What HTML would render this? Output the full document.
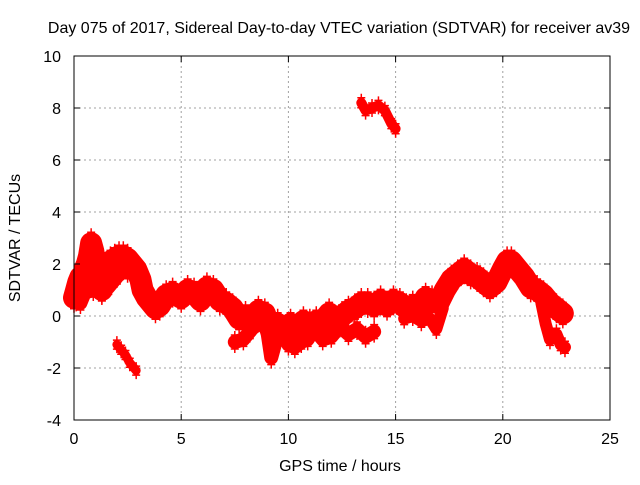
<!DOCTYPE html>
<html><head><meta charset="utf-8"><style>
body{margin:0;background:#fff}
svg text{font-family:"Liberation Sans",sans-serif;font-size:16px;fill:#000}
</style></head><body>
<svg id="chart" width="640" height="480" xmlns="http://www.w3.org/2000/svg">
<rect width="640" height="480" fill="#fff"/>
<text x="339" y="33" text-anchor="middle">Day 075 of 2017, Sidereal Day-to-day VTEC variation (SDTVAR) for receiver av39</text>
<text x="340" y="471" text-anchor="middle">GPS time / hours</text>
<text transform="translate(20,238) rotate(-90)" text-anchor="middle">SDTVAR / TECUs</text>
<g id="grid"></g><g id="series"></g><g id="axes"></g>
</svg>
<script>
const xTicks=[0,5,10,15,20,25];
const yTicks=[-4,-2,0,2,4,6,8,10];
const segMainT=[0,0.1,0.2,0.3,0.4,0.5,0.6,0.7,0.8,0.9,1.0,1.1,1.2,1.3,1.4,1.5,1.7,1.9,2.1,2.3,2.5,2.7,2.9,3.1,3.2,3.4,3.6,3.8,4.0,4.3,4.6,5.0,5.3,5.6,5.9,6.2,6.5,6.8,7.1,7.4,7.7,8.0,8.3,8.6,8.9,9.2,9.5,9.8,10.1,10.4,10.7,11.0,11.3,11.6,11.9,12.2,12.5,12.8,13.1,13.4,13.7,14.0,14.3,14.6,14.9,15.2,15.5,15.8,16.1,16.4,16.7,17.0,17.3,17.6,17.9,18.2,18.5,18.8,19.1,19.4,19.7,20.0,20.2,20.4,20.7,21.0,21.3,21.6,21.9,22.2,22.5,22.8];
const segMainV=[0.7,1.0,1.3,1.5,1.1,1.8,2.0,2.3,2.8,2.5,2.0,1.7,1.5,1.0,1.3,1.9,2.1,2.2,2.3,2.3,2.2,2.0,1.8,1.4,1.0,0.7,0.5,0.3,0.4,0.8,0.9,0.7,1.0,0.9,0.6,1.1,1.0,0.6,0.5,0.3,-0.1,0.0,-0.3,0.2,0.1,-0.6,-0.3,-0.6,-0.3,-0.5,-0.2,-0.3,-0.2,-0.2,0.1,-0.2,0.0,0.2,0.3,0.5,0.5,0.4,0.6,0.4,0.6,0.5,0.3,0.4,0.2,0.7,0.6,0.5,1.0,1.4,1.6,1.8,1.6,1.5,1.3,1.1,1.3,1.8,2.1,2.1,1.8,1.5,1.1,1.0,0.8,0.5,0.3,0.1];
const segBranchAT=[0.1,0.3,0.5,0.9,1.3,1.6,2.0,2.3,2.5];
const segBranchAV=[0.6,0.5,0.9,1.0,0.9,1.1,1.5,1.8,1.7];
const segLowT=[2.0,2.2,2.4,2.6,2.9];
const segLowV=[-1.1,-1.3,-1.5,-1.8,-2.1];
const segBranchBT=[7.5,7.9,8.2,8.6,9.0,9.2,9.4,9.7,10.0,10.3,10.6,10.9,11.2,11.6,12.0,12.4,12.8,13.2,13.6,14.0];
const segBranchBV=[-1.0,-0.9,-0.6,-0.2,-0.5,-1.6,-1.0,-0.6,-1.1,-1.2,-1.0,-0.9,-0.5,-0.9,-0.8,-0.4,-0.7,-0.5,-0.8,-0.6];
const segBranchCT=[15.4,15.8,16.2,16.6,16.9,17.2];
const segBranchCV=[-0.1,0.0,-0.2,-0.1,-0.5,0.3];
const segEndT=[21.8,22.0,22.2,22.5,22.7,22.9];
const segEndV=[0.5,-0.3,-0.9,-0.7,-1.1,-1.2];
const segHighT=[13.4,13.6,13.9,14.2,14.5,14.8,15.0];
const segHighV=[8.2,7.9,8.0,8.1,7.9,7.4,7.2];

const X0=74,X1=610,Y0=420,Y1=56;
const xs=t=>X0+(t-0)/(25-0)*(X1-X0);
const ys=v=>Y0-(v+4)/(14)*(Y0-Y1);
const NS="http://www.w3.org/2000/svg";
function mk(tag,attrs,parent){const e=document.createElementNS(NS,tag);for(const k in attrs)e.setAttribute(k,attrs[k]);parent.appendChild(e);return e;}
const grid=document.getElementById('grid'),axes=document.getElementById('axes'),series=document.getElementById('series');
xTicks.forEach(t=>{
  if(t>0&&t<25){const g=mk('line',{x1:xs(t),x2:xs(t),y1:Y1,y2:Y0,stroke:'#a0a0a0','stroke-dasharray':'2,3'},grid);
  
  }
  const tk=mk('path',{d:`M${xs(t)},${Y0}v-6M${xs(t)},${Y1}v6`,stroke:'#000'},axes);
  
  
  const l=mk('text',{x:xs(t),y:444,'text-anchor':'middle'},axes);l.textContent=t;
  
  
});
yTicks.forEach(v=>{
  if(v>-4&&v<10){const g=mk('line',{x1:X0,x2:X1,y1:ys(v),y2:ys(v),stroke:'#a0a0a0','stroke-dasharray':'2,3'},grid);
  
  }
  const tk=mk('path',{d:`M${X0},${ys(v)}h6M${X1},${ys(v)}h-6`,stroke:'#000'},axes);
  
  
  const l=mk('text',{x:61,y:ys(v)+6,'text-anchor':'end'},axes);l.textContent=v;
  
  
});
const frame=mk('rect',{x:X0,y:Y1,width:X1-X0,height:Y0-Y1,fill:'none',stroke:'#000'},axes);


const segs=[[segMainT,segMainV,22],[segBranchAT,segBranchAV,14],[segLowT,segLowV,9],[segBranchBT,segBranchBV,14],[segBranchCT,segBranchCV,12],[segEndT,segEndV,12],[segHighT,segHighV,10]];
segs.forEach(([T,V,w])=>{
  const pts=T.map((t,i)=>xs(t)+','+ys(V[i])).join(' ');
  const pl=mk('polyline',{points:pts,fill:'none',stroke:'#ff0000','stroke-width':w,'stroke-linejoin':'round','stroke-linecap':'round'},series);
  
  
  T.forEach((t,i)=>{
    const x=xs(t),y=ys(V[i]);
    const m=mk('path',{d:`M${x-4},${y-w/2}h8M${x},${y-w/2-4}v8M${x-4},${y+w/2}h8M${x},${y+w/2-4}v8`,stroke:'#ff0000','stroke-width':1.5},series);
    
    
  });
});
</script>
</body></html>
